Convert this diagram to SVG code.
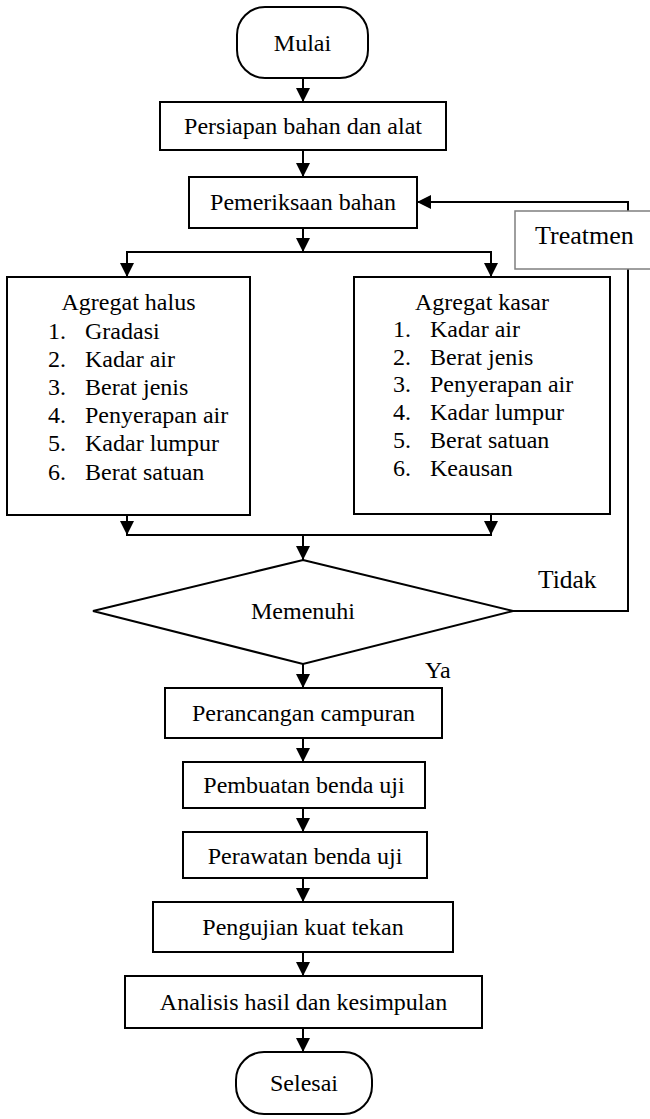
<svg xmlns="http://www.w3.org/2000/svg" width="650" height="1119" viewBox="0 0 650 1119">
<style>
.n{fill:#fff;stroke:#000;stroke-width:2}
.t{font-family:"Liberation Serif","Times New Roman",serif;font-size:24px;fill:#000}
.c{text-anchor:middle}
.l{fill:none;stroke:#000;stroke-width:2}
.tr{fill:#fff;stroke:#7f7f7f;stroke-width:1.5}
</style>
<defs>
<marker id="ah" markerUnits="userSpaceOnUse" markerWidth="14" markerHeight="14" refX="14" refY="7" orient="auto" viewBox="0 0 14 14">
<path d="M0,0 L14,7 L0,14 z" fill="#000"/>
</marker>
</defs>
<rect width="650" height="1119" fill="#fff"/>
<g id="connectors">
<line class="l" x1="303" y1="78" x2="303" y2="102" marker-end="url(#ah)"/>
<line class="l" x1="303" y1="150" x2="303" y2="177" marker-end="url(#ah)"/>
<line class="l" x1="303" y1="228" x2="303" y2="252" marker-end="url(#ah)"/>
<line class="l" x1="126" y1="252" x2="492" y2="252"/>
<line class="l" x1="127" y1="252" x2="127" y2="277" marker-end="url(#ah)"/>
<line class="l" x1="491" y1="252" x2="491" y2="277" marker-end="url(#ah)"/>
<line class="l" x1="127" y1="515" x2="127" y2="535" marker-end="url(#ah)"/>
<line class="l" x1="491" y1="514" x2="491" y2="535" marker-end="url(#ah)"/>
<line class="l" x1="126" y1="535" x2="492" y2="535"/>
<line class="l" x1="303" y1="535" x2="303" y2="560" marker-end="url(#ah)"/>
<polyline class="l" points="513,611 628,611 628,202 417,202" marker-end="url(#ah)"/>
<line class="l" x1="303" y1="664" x2="303" y2="688" marker-end="url(#ah)"/>
<line class="l" x1="303" y1="738" x2="303" y2="762" marker-end="url(#ah)"/>
<line class="l" x1="303" y1="808" x2="303" y2="832" marker-end="url(#ah)"/>
<line class="l" x1="303" y1="878" x2="303" y2="902" marker-end="url(#ah)"/>
<line class="l" x1="303" y1="952" x2="303" y2="976" marker-end="url(#ah)"/>
<line class="l" x1="303" y1="1028" x2="303" y2="1052" marker-end="url(#ah)"/>
<text class="t" x="538" y="588" style="font-size:25.5px">Tidak</text>
<text class="t" x="425" y="678">Ya</text>
</g>
<g id="mulai">
<rect class="n" x="237" y="7" width="131" height="71" rx="28" ry="28"/>
<text class="t c" x="302.5" y="51">Mulai</text>
</g>
<g id="persiapan">
<rect class="n" x="160" y="102" width="286" height="48"/>
<text class="t c" x="303" y="134">Persiapan bahan dan alat</text>
</g>
<g id="pemeriksaan">
<rect class="n" x="189" y="177" width="228" height="51"/>
<text class="t c" x="303" y="210">Pemeriksaan bahan</text>
</g>
<g id="treatmen">
<rect class="tr" x="515" y="211" width="145" height="58"/>
<text class="t" x="535" y="244" style="font-size:26px">Treatmen</text>
</g>
<g id="agregat-halus">
<rect class="n" x="7" y="277" width="243" height="238"/>
<text class="t c" x="128.5" y="310">Agregat halus</text>
<text class="t" x="48" y="339">1.</text><text class="t" x="85" y="339">Gradasi</text>
<text class="t" x="48" y="367">2.</text><text class="t" x="85" y="367">Kadar air</text>
<text class="t" x="48" y="395">3.</text><text class="t" x="85" y="395">Berat jenis</text>
<text class="t" x="48" y="423">4.</text><text class="t" x="85" y="423">Penyerapan air</text>
<text class="t" x="48" y="451">5.</text><text class="t" x="85" y="451">Kadar lumpur</text>
<text class="t" x="48" y="480">6.</text><text class="t" x="85" y="480">Berat satuan</text>
</g>
<g id="agregat-kasar">
<rect class="n" x="354" y="277" width="256" height="237"/>
<text class="t c" x="482" y="310">Agregat kasar</text>
<text class="t" x="393" y="337">1.</text><text class="t" x="430" y="337">Kadar air</text>
<text class="t" x="393" y="365">2.</text><text class="t" x="430" y="365">Berat jenis</text>
<text class="t" x="393" y="392">3.</text><text class="t" x="430" y="392">Penyerapan air</text>
<text class="t" x="393" y="420">4.</text><text class="t" x="430" y="420">Kadar lumpur</text>
<text class="t" x="393" y="448">5.</text><text class="t" x="430" y="448">Berat satuan</text>
<text class="t" x="393" y="476">6.</text><text class="t" x="430" y="476">Keausan</text>
</g>
<g id="memenuhi">
<polygon class="n" points="303,560 513,611 303,664 93,611"/>
<text class="t c" x="303" y="619">Memenuhi</text>
</g>
<g id="perancangan">
<rect class="n" x="165" y="688" width="277" height="50"/>
<text class="t c" x="303.5" y="721">Perancangan campuran</text>
</g>
<g id="pembuatan">
<rect class="n" x="183" y="762" width="242" height="46"/>
<text class="t c" x="304" y="793">Pembuatan benda uji</text>
</g>
<g id="perawatan">
<rect class="n" x="183" y="832" width="244" height="46"/>
<text class="t c" x="305" y="864">Perawatan benda uji</text>
</g>
<g id="pengujian">
<rect class="n" x="153" y="902" width="300" height="50"/>
<text class="t c" x="303" y="935">Pengujian kuat tekan</text>
</g>
<g id="analisis">
<rect class="n" x="125" y="976" width="357" height="52"/>
<text class="t c" x="303.5" y="1010">Analisis hasil dan kesimpulan</text>
</g>
<g id="selesai">
<rect class="n" x="236" y="1052" width="136" height="62" rx="28" ry="28"/>
<text class="t c" x="304" y="1091">Selesai</text>
</g>
</svg>
